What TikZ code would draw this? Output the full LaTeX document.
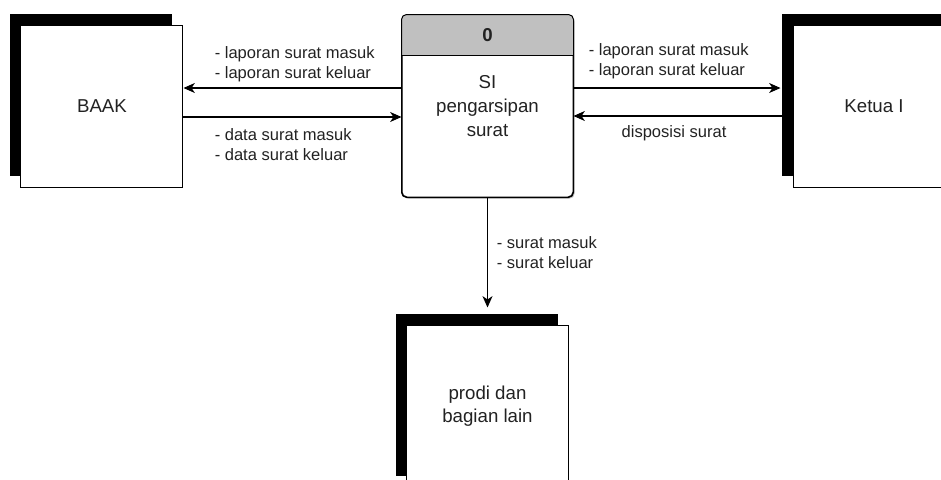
\documentclass[tikz,border=0pt]{standalone}
\usepackage{fontspec}
\setmainfont{Liberation Sans}
\usetikzlibrary{arrows.meta,shapes,shadows,positioning}

\definecolor{headgray}{HTML}{C0C0C0}
\definecolor{txtgray}{HTML}{222222}

\tikzset{
  entity/.style={draw, fill=white, line width=0.75pt, minimum width=121.5pt, minimum height=121.5pt,
    align=center, text=txtgray, font=\fontsize{14}{17}\selectfont,
    general shadow={fill=black, shadow xshift=-8.25pt, shadow yshift=8.25pt}},
  process/.style={draw, fill=white, line width=0.75pt, rounded corners=3.75pt, minimum width=128.25pt,
    minimum height=136.5pt, align=center, text=txtgray, font=\fontsize{14}{18}\selectfont,
    drop shadow={fill=black, opacity=0.25, shadow xshift=1.2pt, shadow yshift=-1.2pt}},
  flow/.style={line width=0.8pt, -{Stealth[length=8.5pt, width=7.5pt, inset=2.5pt]}},
  lbl/.style={align=left, inner sep=0pt, text=txtgray, font=\fontsize{12.4}{15}\selectfont}
}

\begin{document}
\begin{tikzpicture}[node distance=163.5pt and 95.25pt]
   \useasboundingbox (-365.625pt,79.5pt) rectangle (340.125pt,-279.75pt);

   \node[process] (proc) at (0,0) {SI\\pengarsipan\\surat};
   \node[entity] (baak) [left=163.5pt of proc] {BAAK};
   \node[entity] (ketua) [right=164.25pt of proc] {Ketua I};
   \node[entity] (prodi) [below=95.25pt of proc] {prodi dan\\bagian lain};

   \begin{scope}
     \clip[rounded corners=3.75pt] (proc.north west) rectangle (proc.south east);
     \fill[headgray] (proc.north west) rectangle ([yshift=-30.75pt]proc.north east);
   \end{scope}
   \draw[line width=0.75pt, rounded corners=3.75pt] (proc.north west) rectangle (proc.south east);
   \draw[line width=0.75pt] ([yshift=-30.75pt]proc.north west) -- ([yshift=-30.75pt]proc.north east);
   \node[text=txtgray, font=\bfseries\fontsize{14}{17}\selectfont] (nol) at ([yshift=-15.4pt]proc.north) {0};

   \draw[flow] ([yshift=13.5pt]proc.west) -- ([yshift=13.5pt]baak.east);
   \draw[flow] ([yshift=-8.25pt]baak.east) -- ([yshift=-8.25pt]proc.west);
   \draw[flow] ([yshift=13.5pt]proc.east) -- ([xshift=-9pt, yshift=13.5pt]ketua.west);
   \draw[flow] ([xshift=-8.25pt, yshift=-7.5pt]ketua.west) -- ([yshift=-7.5pt]proc.east);
   \draw[flow] (proc.south) -- ([yshift=12.75pt]prodi.north);

   \node[lbl, anchor=west] (lapkiri) at ([xshift=23.25pt, yshift=31.1pt]baak.east) {- laporan surat masuk\\- laporan surat keluar};
   \node[lbl, anchor=west] (datakiri) at ([xshift=23.25pt, yshift=-28.9pt]baak.east) {- data surat masuk\\- data surat keluar};
   \node[lbl, anchor=west] (lapkanan) at ([xshift=11.25pt, yshift=33.4pt]proc.east) {- laporan surat masuk\\- laporan surat keluar};
   \node[lbl] (disposisi) at ([xshift=75.4pt, yshift=-20.25pt]proc.east) {disposisi surat};
   \node[lbl, anchor=west] (suratbawah) at ([xshift=6.75pt, yshift=-41.25pt]proc.south) {- surat masuk\\- surat keluar};

\end{tikzpicture}
\end{document}
